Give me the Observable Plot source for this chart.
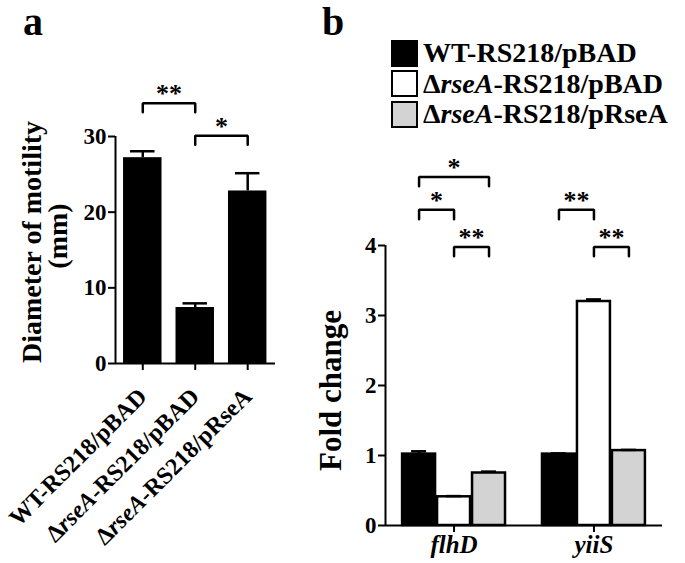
<!DOCTYPE html>
<html><head><meta charset="utf-8">
<script src="https://cdn.jsdelivr.net/npm/d3@7"></script>
<script src="https://cdn.jsdelivr.net/npm/@observablehq/plot@0.6"></script>
<style>
body{margin:0;background:#fff;}
#wrap{position:relative;width:685px;height:563px;overflow:hidden;background:#fff;font-family:"Liberation Serif","Times New Roman","DejaVu Serif",serif;font-weight:bold;color:#000;}
#pa,#pb{position:absolute;top:0;}
#pa{left:0}
#pb{left:300px}
.panel{position:absolute;font-size:40px;line-height:normal;top:-2px;}
#legend{position:absolute;left:391px;top:38px;font-size:28px;line-height:1;}
.row{display:flex;align-items:center;height:30.5px;white-space:nowrap;}
.sw{box-sizing:border-box;width:27px;height:27px;border:2.5px solid #000;margin-right:5px;flex:none;}
svg [aria-label$="tick"] path, svg .tick line{stroke-width:2px;}
#pb [aria-label="x-axis tick label"] text, #pb [aria-label="x-axis"] text{font-style:italic;font-size:25px;}
#pa [aria-label="x-axis tick label"] text, #pa [aria-label="x-axis"] text{font-size:24px;}
</style></head><body><div id="wrap">
<div id="pa"></div><div id="pb"></div>
<div class="panel" style="left:23px">a</div>
<div class="panel" style="left:322px">b</div>
<div id="legend"></div>
</div>
<script>
// ---------- shared ----------
const strains = ["WT-RS218/pBAD", "ΔrseA-RS218/pBAD", "ΔrseA-RS218/pRseA"];
const strainColors = ["#000000", "#ffffff", "#d3d3d3"];

// ---------- panel a: motility ----------
const motilityMean = [27.2, 7.4, 22.8];
const motilityErr = [0.85, 0.55, 2.35];
const motilityTicks = [0, 10, 20, 30];
const motilityPairs = [[0, 1], [1, 2]];
const motilityPairLevels = [34.4, 30.1];
const motilityPairStars = ["**", "*"];

// ---------- panel b: fold change ----------
const genes = ["flhD", "yiiS"];
const flhDFold = [1.02, 0.41, 0.75];
const flhDErr = [0.04, 0.01, 0.02];
const yiiSFold = [1.02, 3.2, 1.07];
const yiiSErr = [0.01, 0.03, 0.01];
const foldTicks = [0, 1, 2, 3, 4];
// [gene index, strain index A, strain index B]
const foldPairs = [[0, 0, 2], [0, 0, 1], [0, 1, 2], [1, 0, 1], [1, 1, 2]];
const foldPairLevels = [4.98, 4.51, 3.98, 4.51, 3.98];
const foldPairStars = ["*", "*", "**", "**", "**"];

const FONT = '"Liberation Serif","Times New Roman","DejaVu Serif",serif';

function bracketLines(pairs, levels, drop, xa, xb) {
  const pts = [];
  pairs.forEach((p, k) => {
    const a = xa(p), b = xb(p), y = levels[k];
    pts.push({k, x: a, y: y - drop}, {k, x: a, y}, {k, x: b, y}, {k, x: b, y: y - drop});
  });
  return pts;
}

function italicizeStrain(sel) {
  sel.each(function () {
    const t = this.textContent;
    if (t.startsWith("Δ")) {
      const s = d3.select(this);
      s.text(null);
      s.append("tspan").text("Δ");
      s.append("tspan").attr("font-style", "italic").text("rseA");
      s.append("tspan").text(t.slice(5));
    }
  });
}

// ----- panel a -----
const rowsA = strains.map((s, i) => ({strain: s, i, value: motilityMean[i], err: motilityErr[i]}));
const xDomA = [-0.02, strains.length + 0.03];
const pa = Plot.plot({
  width: 300, height: 563,
  marginLeft: 115, marginRight: 25, marginTop: 136, marginBottom: 200,
  style: {fontFamily: FONT, fontWeight: "bold", fontSize: "23px", background: "white", color: "black", overflow: "visible"},
  x: {type: "linear", domain: xDomA, ticks: strains.map((_, i) => i + 0.5),
      tickFormat: d => strains[Math.round(d - 0.5)], tickRotate: -45, tickSize: 7, tickPadding: 22, label: null},
  y: {domain: [0, 30], ticks: motilityTicks, tickFormat: d3.format("d"), tickSize: 7, tickPadding: 2, label: null},
  marks: [
    Plot.rectY(rowsA, {x1: "i", x2: d => d.i + 1, y: "value", fill: "black", insetLeft: 7, insetRight: 7}),
    Plot.ruleX(rowsA, {x: d => d.i + 0.5, y1: "value", y2: d => d.value + d.err, strokeWidth: 2.5}),
    Plot.ruleY(rowsA, {y: d => d.value + d.err, x1: "i", x2: d => d.i + 1, insetLeft: 14, insetRight: 14, strokeWidth: 2.5}),
    Plot.ruleX([xDomA[0]], {y1: 0, y2: 30, strokeWidth: 2}),
    Plot.ruleY([0], {strokeWidth: 2}),
    Plot.line(bracketLines(motilityPairs, motilityPairLevels, 1.2, p => p[0] + 0.5, p => p[1] + 0.5),
      {x: "x", y: "y", z: "k", strokeWidth: 2.5, strokeLinejoin: "miter"}),
    Plot.text(motilityPairs, {x: p => (p[0] + p[1]) / 2 + 0.5, y: (p, k) => motilityPairLevels[k],
      text: (p, k) => motilityPairStars[k], lineAnchor: "bottom", dy: -1, fontSize: 26}),
    Plot.text(["Diameter of motility"], {frameAnchor: "left", rotate: -90, textAnchor: "middle", lineAnchor: "bottom", dx: -75, dy: -8, fontSize: 28}),
    Plot.text(["(mm)"], {frameAnchor: "left", rotate: -90, textAnchor: "middle", lineAnchor: "bottom", dx: -49, dy: -14, fontSize: 28})
  ]
});
document.getElementById("pa").appendChild(pa);
italicizeStrain(d3.select(pa).selectAll("text"));

// ----- panel b -----
const foldMeans = [flhDFold, yiiSFold];
const foldErrs = [flhDErr, yiiSErr];
const groupSpan = strains.length + 1;
const rowsB = [];
genes.forEach((g, gi) => strains.forEach((s, si) => rowsB.push({
  gene: g, gi, strain: s, si, x0: gi * groupSpan + si, value: foldMeans[gi][si], err: foldErrs[gi][si]
})));
const xDomB = [-0.46, genes.length * groupSpan - 1 + 0.46];
const pb = Plot.plot({
  width: 385, height: 563,
  marginLeft: 85, marginRight: 23, marginTop: 245, marginBottom: 38,
  style: {fontFamily: FONT, fontWeight: "bold", fontSize: "23px", background: "white", color: "black", overflow: "visible"},
  x: {type: "linear", domain: xDomB, ticks: genes.map((_, gi) => gi * groupSpan + strains.length / 2),
      tickFormat: d => genes[Math.round((d - strains.length / 2) / groupSpan)], tickSize: 7, tickPadding: 3, label: null},
  y: {domain: [0, 4], ticks: foldTicks, tickFormat: d3.format("d"), tickSize: 7, tickPadding: 2, label: null},
  color: {domain: strains, range: strainColors},
  marks: [
    Plot.rectY(rowsB, {x1: "x0", x2: d => d.x0 + 1, y: "value", fill: "strain", stroke: "black", strokeWidth: 2.5, insetLeft: 1, insetRight: 1}),
    Plot.ruleX(rowsB, {x: d => d.x0 + 0.5, y1: "value", y2: d => d.value + d.err, strokeWidth: 2.5}),
    Plot.ruleY(rowsB, {y: d => d.value + d.err, x1: "x0", x2: d => d.x0 + 1, insetLeft: 10, insetRight: 10, strokeWidth: 2.5}),
    Plot.ruleX([xDomB[0]], {y1: 0, y2: 4, strokeWidth: 2}),
    Plot.ruleY([0], {strokeWidth: 2}),
    Plot.line(bracketLines(foldPairs, foldPairLevels, 0.135, p => p[0] * groupSpan + p[1] + 0.5, p => p[0] * groupSpan + p[2] + 0.5),
      {x: "x", y: "y", z: "k", strokeWidth: 2.5, strokeLinejoin: "miter"}),
    Plot.text(foldPairs, {x: p => p[0] * groupSpan + (p[1] + p[2]) / 2 + 0.5, y: (p, k) => foldPairLevels[k],
      text: (p, k) => foldPairStars[k], lineAnchor: "bottom", dy: -1, fontSize: 26}),
    Plot.text(["Fold change"], {frameAnchor: "left", rotate: -90, textAnchor: "middle", lineAnchor: "bottom", dx: -45, dy: 5, fontSize: 31})
  ]
});
document.getElementById("pb").appendChild(pb);

// ----- legend (colours from the same arrays) -----
const legend = d3.select("#legend");
strains.forEach((s, i) => {
  const row = legend.append("div").attr("class", "row");
  row.append("div").attr("class", "sw").style("background", strainColors[i]);
  const lab = row.append("span");
  if (s.startsWith("Δ")) {
    lab.append("span").text("Δ");
    lab.append("i").text("rseA");
    lab.append("span").text(s.slice(5));
  } else lab.text(s);
});
</script></body></html>
